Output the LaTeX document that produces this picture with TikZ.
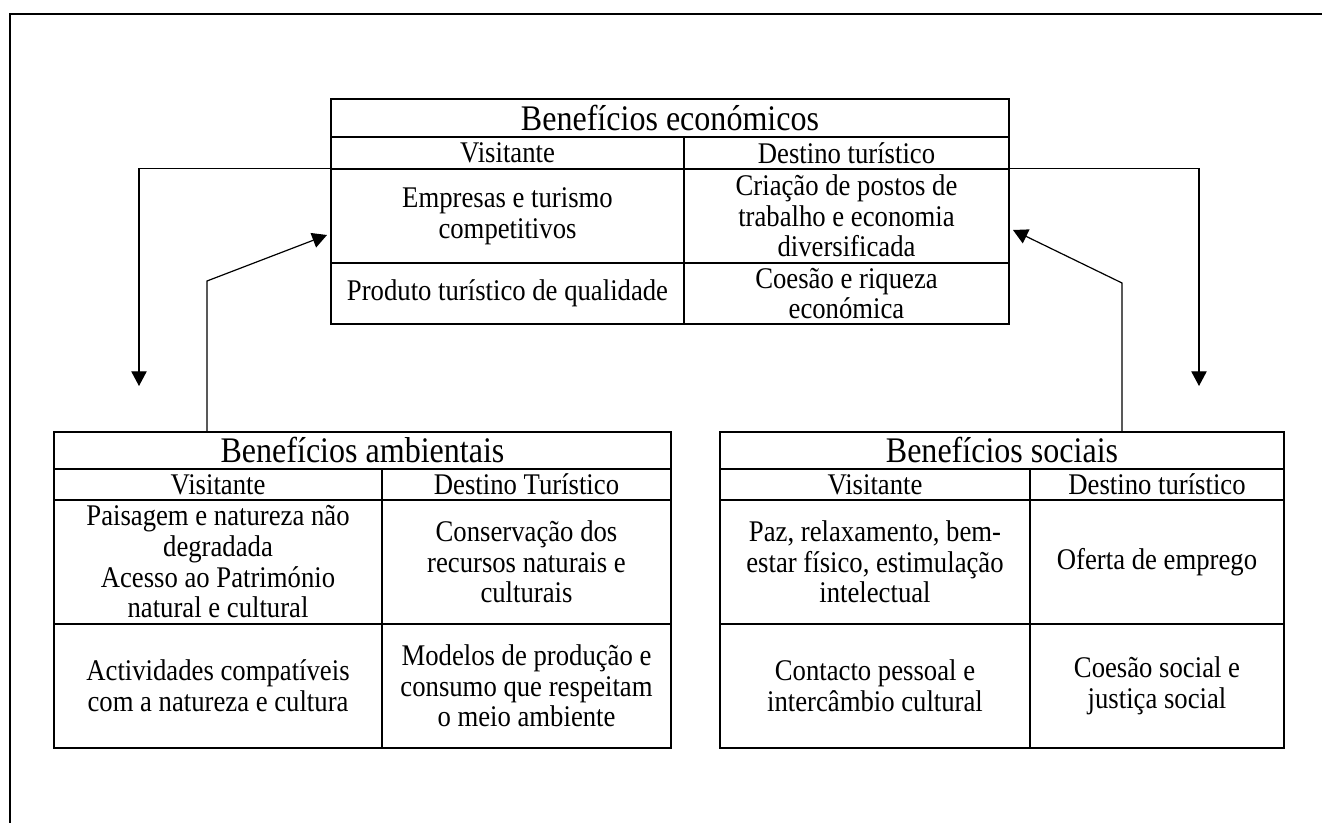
\documentclass[tikz,border=0pt]{standalone}
\usepackage{fontspec}
\setmainfont{Liberation Serif}[FakeStretch=0.89]
\usetikzlibrary{arrows.meta,positioning,calc}

\begin{document}
\begin{tikzpicture}[
    x=0.75pt, y=-0.75pt,
    >={Triangle[length=11pt,width=11.5pt]},
    cell/.style 2 args={draw, line width=1.2pt, inner sep=0pt, align=center,
        minimum width=#1*0.75pt, minimum height=#2*0.75pt,
        font=\fontsize{22.5}{23}\selectfont},
    headfont/.style={font=\fontsize{27}{30}\selectfont},
    link/.style={->, line width=0.9pt}
]
    \path[fill=white, use as bounding box] (0,0) rectangle (1322,823);
    % outer frame (cut at right and bottom)
    \draw[line width=1.1pt] (1340,14) -- (10,14) -- (10,840);

    % Beneficios economicos
    \node[cell={678}{38}, headfont] (ecotitle) at (670,118) {Benefícios económicos};
    \node[cell={353}{32}] (ecov) at (507.5,153) {Visitante};
    \node[cell={325}{32}] (ecod) at (846.5,153) {Destino turístico};
    \node[cell={353}{94}] (eco11) at (507.5,216) {Empresas e turismo\\competitivos};
    \node[cell={325}{94}] (eco12) at (846.5,216) {Criação de postos de\\trabalho e economia\\diversificada};
    \node[cell={353}{61}] (eco21) at (507.5,293.5) {Produto turístico de qualidade};
    \node[cell={325}{61}] (eco22) at (846.5,293.5) {Coesão e riqueza\\económica};

    % Beneficios ambientais
    \node[cell={617}{37}, headfont] (ambtitle) at (362.5,450.5) {Benefícios ambientais};
    \node[cell={328}{31}] (ambv) at (218,484.5) {Visitante};
    \node[cell={289}{31}] (ambd) at (526.5,484.5) {Destino Turístico};
    \node[cell={328}{124}] (amb11) at (218,562) {Paisagem e natureza não\\degradada\\Acesso ao Património\\natural e cultural};
    \node[cell={289}{124}] (amb12) at (526.5,562) {Conservação dos\\recursos naturais e\\culturais};
    \node[cell={328}{124}] (amb21) at (218,686) {Actividades compatíveis\\com a natureza e cultura};
    \node[cell={289}{124}] (amb22) at (526.5,686) {Modelos de produção e\\consumo que respeitam\\o meio ambiente};

    % Beneficios sociais
    \node[cell={564}{37}, headfont] (soctitle) at (1002,450.5) {Benefícios sociais};
    \node[cell={310}{31}] (socv) at (875,484.5) {Visitante};
    \node[cell={254}{31}] (socd) at (1157,484.5) {Destino turístico};
    \node[cell={310}{124}] (soc11) at (875,562) {Paz, relaxamento, bem-\\estar físico, estimulação\\intelectual};
    \node[cell={254}{124}] (soc12) at (1157,562) {Oferta de emprego};
    \node[cell={310}{124}] (soc21) at (875,686) {Contacto pessoal e\\intercâmbio cultural};
    \node[cell={254}{124}] (soc22) at (1157,686) {Coesão social e\\justiça social};

    % arrows
    \coordinate (ecoleft) at (139,386);
    \coordinate (ecoright) at (1199,386);
    \coordinate (ambbend) at (207,281);
    \coordinate (ambtip) at (327,235);
    \coordinate (socbend) at (1122,283);
    \coordinate (soctip) at (1013,230);
    \draw[link] (eco11.north west) -| (ecoleft);
    \draw[link] (eco12.north east) -| (ecoright);
    \draw[link] (ambtitle.north -| ambbend) -- (ambbend) -- (ambtip);
    \draw[link] (soctitle.north -| socbend) -- (socbend) -- (soctip);
\end{tikzpicture}
\end{document}
